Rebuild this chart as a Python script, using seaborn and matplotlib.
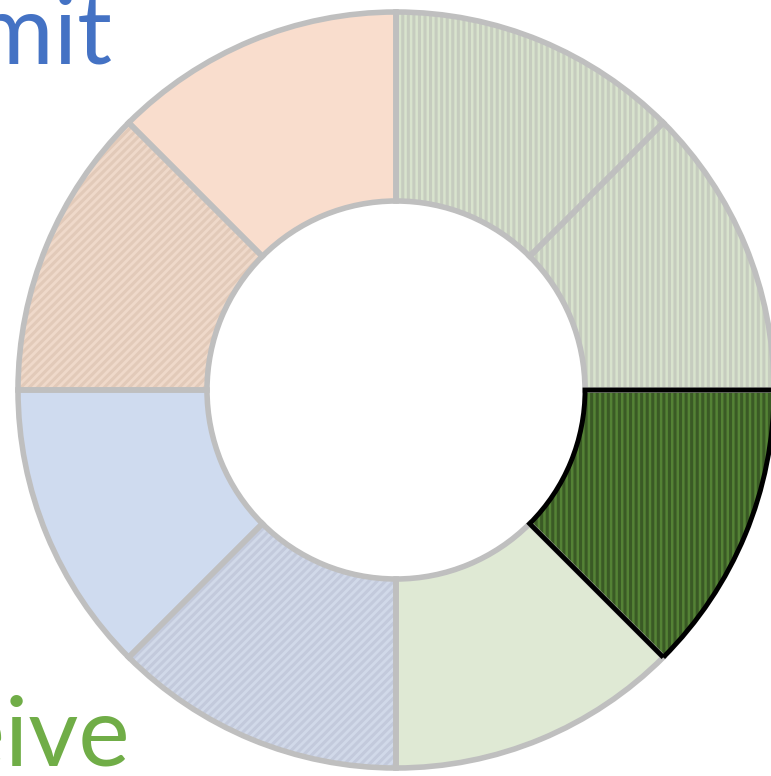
import matplotlib
matplotlib.use("Agg")
import matplotlib.pyplot as plt
import seaborn as sns

# Eight equal segments, clockwise from 12 o'clock
segments = ["G1", "G2", "G3", "G4", "B1", "B2", "P1", "P2"]
values = [1, 1, 1, 1, 1, 1, 1, 1]
fill_colors = ["#d8e3cd", "#d8e3cd", "#548235", "#dfe9d4",
               "#d1d9e9", "#cfdbef", "#efd9ca", "#f9ddcd"]
hatch_colors = ["#c6ccbf", "#c6ccbf", "#3a5a25", None,
                "#c3cadc", None, "#e2cab9", None]
hatches = ["|||", "|||", "|||", None, "////", None, "////", None]
edge_colors = ["#bfbfbf", "#bfbfbf", "#000000", "#bfbfbf",
               "#bfbfbf", "#bfbfbf", "#bfbfbf", "#bfbfbf"]
side_labels = ["Transmit", "Receive"]
side_colors = ["#4472c4", "#70ad47"]

sns.set_theme(style="white")
plt.rcParams["font.family"] = ["Lato", "DejaVu Sans"]
plt.rcParams["hatch.linewidth"] = 2.2

W, H = 771, 776
fig = plt.figure(figsize=(W / 100, H / 100), dpi=100)
ax = fig.add_axes([0, 0, 1, 1])

ring = dict(width=0.5)

# fill + hatch layer
fills, _ = ax.pie(values, startangle=90, counterclock=False, radius=1.0,
                  colors=fill_colors, wedgeprops=dict(ring, linewidth=0))
for w, hc, h in zip(fills, hatch_colors, hatches):
    if h:
        w.set_hatch(h)
        w.set_edgecolor(hc)
        w.set_linewidth(0)

# outline layer (grey first, highlighted segment on top)
outlines, _ = ax.pie(values, startangle=90, counterclock=False, radius=1.0,
                     colors=["none"] * len(values),
                     wedgeprops=dict(ring, linewidth=4.0, fill=False))
for w, ec in zip(outlines, edge_colors):
    w.set_edgecolor(ec)
    if ec == "#000000":
        w.set_zorder(5)
        w.set_linewidth(3.5)

# pixel-based view: centre at (396, 390) from top-left, radius 378 px
cx, cy, r = 396, 390, 378
ax.set_aspect("auto")
ax.set_xlim(-cx / r, (W - cx) / r)
ax.set_ylim(-(H - cy) / r, cy / r)
ax.axis("off")

fig.text(112 / W, 1 - 63 / H, side_labels[0], ha="right", va="baseline",
         fontsize=70, color=side_colors[0])
fig.text(130 / W, 1 - 765 / H, side_labels[1], ha="right", va="baseline",
         fontsize=70, color=side_colors[1])

fig.savefig("out.png", dpi=100)
